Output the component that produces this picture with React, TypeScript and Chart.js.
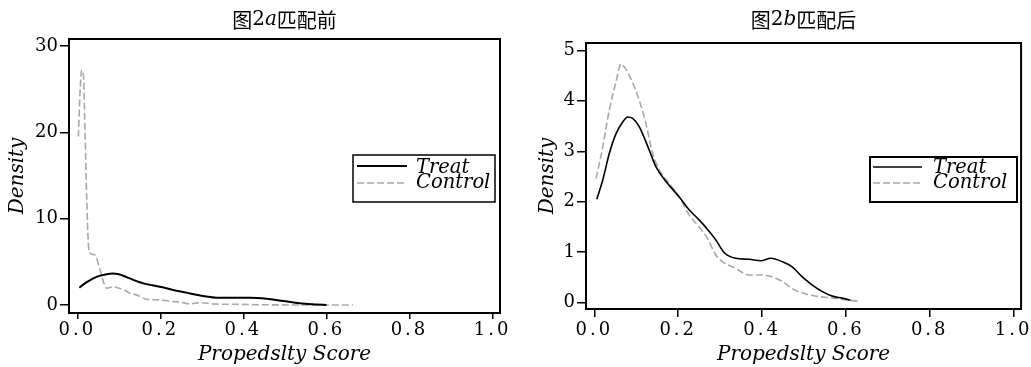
import React, { useEffect, useRef } from "react";
import { Chart, registerables } from "chart.js";
Chart.register(...registerables);

// ---------- data ----------
const xTickValues = [0, 0.2, 0.4, 0.6, 0.8, 1.0];
const yTickValuesBefore = [0, 10, 20, 30];
const yTickValuesAfter = [0, 1, 2, 3, 4, 5];
const seriesLabels = ["Treat", "Control"];
const xAxisLabel = "Propedslty Score";
const yAxisLabel = "Density";
const titleBeforeParts = ["图", "2", "a", "匹配前"];
const titleAfterParts = ["图", "2", "b", "匹配后"];

const beforeTreatX = [0.005, 0.02, 0.0386, 0.055, 0.071, 0.085, 0.1, 0.115, 0.135, 0.159, 0.199, 0.231, 0.263, 0.29, 0.311, 0.335, 0.375, 0.415, 0.456, 0.496, 0.536, 0.576, 0.6];
const beforeTreatY = [2.0, 2.55, 3.09, 3.4, 3.57, 3.63, 3.55, 3.3, 2.9, 2.5, 2.1, 1.74, 1.43, 1.15, 0.97, 0.85, 0.85, 0.85, 0.73, 0.46, 0.19, 0.06, 0.0];

const beforeControlX = [0.0025, 0.007, 0.0105, 0.0145, 0.0185, 0.0226, 0.0265, 0.0305, 0.0426, 0.0546, 0.0707, 0.0867, 0.111, 0.131, 0.141, 0.167, 0.199, 0.231, 0.247, 0.271, 0.295, 0.327, 0.375, 0.456, 0.55, 0.664];
const beforeControlY = [19.5, 25.0, 27.2, 26.8, 20.3, 12.5, 7.2, 6.0, 5.8, 4.1, 1.93, 2.1, 1.74, 1.27, 1.2, 0.66, 0.58, 0.39, 0.35, 0.12, 0.27, 0.12, 0.08, 0.02, 0.0, 0.0];

const afterTreatX = [0.0057, 0.02, 0.0357, 0.0517, 0.0676, 0.0795, 0.0913, 0.107, 0.131, 0.147, 0.171, 0.202, 0.226, 0.25, 0.274, 0.29, 0.31, 0.337, 0.369, 0.397, 0.421, 0.449, 0.472, 0.496, 0.52, 0.544, 0.568, 0.591, 0.611];
const afterTreatY = [2.05, 2.43, 2.96, 3.35, 3.58, 3.68, 3.65, 3.49, 3.02, 2.69, 2.4, 2.1, 1.84, 1.64, 1.41, 1.24, 0.99, 0.88, 0.86, 0.83, 0.88, 0.81, 0.71, 0.51, 0.35, 0.22, 0.13, 0.09, 0.05];

const afterControlX = [0.004, 0.02, 0.0357, 0.0517, 0.0635, 0.0715, 0.083, 0.095, 0.107, 0.123, 0.139, 0.155, 0.179, 0.202, 0.226, 0.25, 0.27, 0.29, 0.306, 0.337, 0.369, 0.401, 0.425, 0.449, 0.472, 0.496, 0.528, 0.568, 0.607, 0.631];
const afterControlY = [2.46, 3.09, 3.82, 4.38, 4.73, 4.67, 4.51, 4.28, 4.01, 3.55, 2.96, 2.63, 2.36, 2.1, 1.74, 1.5, 1.27, 0.94, 0.81, 0.68, 0.55, 0.55, 0.51, 0.42, 0.28, 0.19, 0.13, 0.09, 0.05, 0.03];

// ---------- helpers ----------
const zip = (xs: number[], ys: number[]) => xs.map((x, i) => ({ x, y: ys[i] }));
const CJK = "'Noto Sans CJK SC', sans-serif";
const SERIF = "'DejaVu Serif', serif";

const decorPlugin = {
  id: "decor",
  beforeDraw(chart: any) {
    const s = chart.scales.x;
    if (s && !s.__spaced) {
      const orig = s.drawLabels.bind(s);
      s.drawLabels = (area: any) => {
        const c = chart.ctx;
        c.save();
        c.letterSpacing = "3px";
        orig(area);
        c.restore();
      };
      s.__spaced = true;
    }
  },
  afterDraw(chart: any, _args: any, opts: any) {
    const ctx = chart.ctx;
    const a = chart.chartArea;
    ctx.save();
    // frame
    ctx.strokeStyle = "#000";
    ctx.lineWidth = opts.frameWidth;
    ctx.strokeRect(a.left, a.top, a.right - a.left, a.bottom - a.top);

    // title with mixed fonts
    const parts: string[] = opts.titleParts;
    const fonts = [`20px ${CJK}`, `20px ${SERIF}`, `italic 20px ${SERIF}`, `20px ${CJK}`];
    const widths = parts.map((t, i) => {
      ctx.font = fonts[i];
      return ctx.measureText(t).width;
    });
    const total = widths.reduce((p, c) => p + c, 0);
    let x = (a.left + a.right) / 2 - total / 2;
    ctx.fillStyle = "#000";
    ctx.textBaseline = "middle";
    ctx.textAlign = "left";
    parts.forEach((t, i) => {
      ctx.font = fonts[i];
      ctx.fillText(t, x, opts.titleY);
      x += widths[i];
    });

    // legend
    const L = opts.legend;
    ctx.lineWidth = L.boxWidth;
    ctx.strokeStyle = "#000";
    ctx.strokeRect(L.x, L.y, L.w, L.h);
    chart.data.datasets.forEach((ds: any, i: number) => {
      const y = L.rowY[i];
      ctx.save();
      ctx.strokeStyle = ds.borderColor;
      ctx.lineWidth = ds.borderWidth;
      ctx.setLineDash(ds.borderDash || []);
      ctx.beginPath();
      ctx.moveTo(L.lineX1, y);
      ctx.lineTo(L.lineX2, y);
      ctx.stroke();
      ctx.restore();
      ctx.fillStyle = "#000";
      ctx.font = `italic ${L.fontSize}px ${SERIF}`;
      ctx.textBaseline = "middle";
      ctx.textAlign = "left";
      ctx.fillText(ds.label, L.textX, L.textRowY[i]);
    });
    ctx.restore();
  },
};

function makeConfig(p: any): any {
  return {
    type: "line",
    data: {
      datasets: [
        {
          label: seriesLabels[0],
          data: p.treat,
          borderColor: "#000000",
          borderWidth: p.treatWidth,
          pointRadius: 0,
          fill: false,
          cubicInterpolationMode: "monotone",
        },
        {
          label: seriesLabels[1],
          data: p.control,
          borderColor: "#a8a8a8",
          borderWidth: 1.6,
          borderDash: [7, 3],
          pointRadius: 0,
          fill: false,
          cubicInterpolationMode: "monotone",
        },
      ],
    },
    options: {
      responsive: false,
      animation: false,
      devicePixelRatio: 1,
      layout: { padding: p.padding },
      plugins: {
        legend: { display: false },
        title: { display: false },
        tooltip: { enabled: false },
        decor: {
          frameWidth: 2,
          titleParts: p.title,
          titleY: 20,
          legend: p.legend,
        },
      },
      scales: {
        x: {
          type: "linear",
          min: -0.02,
          max: 1.018,
          afterBuildTicks: (s: any) => {
            s.ticks = xTickValues.map((v) => ({ value: v }));
          },
          afterFit: (s: any) => {
            s.height = p.xHeight;
          },
          ticks: {
            color: "#000",
            font: { family: SERIF, size: 18 },
            padding: p.xTickPad,
            maxRotation: 0,
            autoSkip: false,
            callback: (v: any) => Number(v).toFixed(1),
          },
          grid: { drawOnChartArea: false, color: "#000", lineWidth: 1.5, tickLength: p.xTickLen },
          border: { display: false },
          title: {
            display: true,
            text: xAxisLabel,
            color: "#000",
            font: { family: SERIF, size: 20, style: "italic" },
            padding: { top: 0, bottom: 0 },
          },
        },
        y: {
          type: "linear",
          min: p.yMin,
          max: p.yMax,
          afterBuildTicks: (s: any) => {
            s.ticks = p.yTicks.map((v: number) => ({ value: v }));
          },
          afterFit: (s: any) => {
            s.width = p.yWidth;
          },
          ticks: {
            color: "#000",
            font: { family: SERIF, size: 18 },
            padding: 2,
            autoSkip: false,
            callback: (v: any) => String(v),
          },
          grid: { drawOnChartArea: false, color: "#000", lineWidth: 1.5, tickLength: 9 },
          border: { display: false },
          title: {
            display: true,
            text: yAxisLabel,
            color: "#000",
            font: { family: SERIF, size: 20, style: "italic" },
            padding: { top: p.yTitlePad, bottom: 0 },
          },
        },
      },
    },
    plugins: [decorPlugin],
  };
}

function Panel({ config, width, left }: { config: any; width: number; left: number }) {
  const ref = useRef<HTMLCanvasElement | null>(null);
  useEffect(() => {
    const ch = new Chart(ref.current as HTMLCanvasElement, config);
    return () => ch.destroy();
  }, []);
  return (
    <canvas
      ref={ref}
      width={width}
      height={367}
      style={{ position: "absolute", left, top: 0, width, height: 367, display: "block" }}
    />
  );
}

const beforeConfig = makeConfig({
  treat: zip(beforeTreatX, beforeTreatY),
  control: zip(beforeControlX, beforeControlY),
  treatWidth: 2,
  yTicks: yTickValuesBefore,
  yMin: -0.93,
  yMax: 30.8,
  yWidth: 69,
  xHeight: 54,
  xTickLen: 6,
  xTickPad: 1,
  yTitlePad: 6,
  padding: { left: 0, right: 15, top: 39, bottom: 0 },
  title: titleBeforeParts,
  legend: {
    x: 353, y: 155, w: 142, h: 47,
    lineX1: 357, lineX2: 407, textX: 416,
    rowY: [166, 183], textRowY: [168, 183],
    fontSize: 19.5, boxWidth: 1.5,
  },
});

const afterConfig = makeConfig({
  treat: zip(afterTreatX, afterTreatY),
  control: zip(afterControlX, afterControlY),
  treatWidth: 1.6,
  yTicks: yTickValuesAfter,
  yMin: -0.125,
  yMax: 5.145,
  yWidth: 71,
  xHeight: 58,
  xTickLen: 8,
  xTickPad: 3,
  yTitlePad: 21,
  padding: { left: 0, right: 9, top: 43, bottom: 0 },
  title: titleAfterParts,
  legend: {
    x: 355, y: 157, w: 147, h: 45,
    lineX1: 358, lineX2: 407, textX: 418,
    rowY: [167, 183], textRowY: [168, 183],
    fontSize: 19.5, boxWidth: 2,
  },
});

export default function App() {
  return (
    <div style={{ position: "absolute", left: 0, top: 0, width: 1031, height: 367, background: "#fff" }}>
      <Panel config={beforeConfig} width={515} left={0} />
      <Panel config={afterConfig} width={516} left={515} />
    </div>
  );
}
